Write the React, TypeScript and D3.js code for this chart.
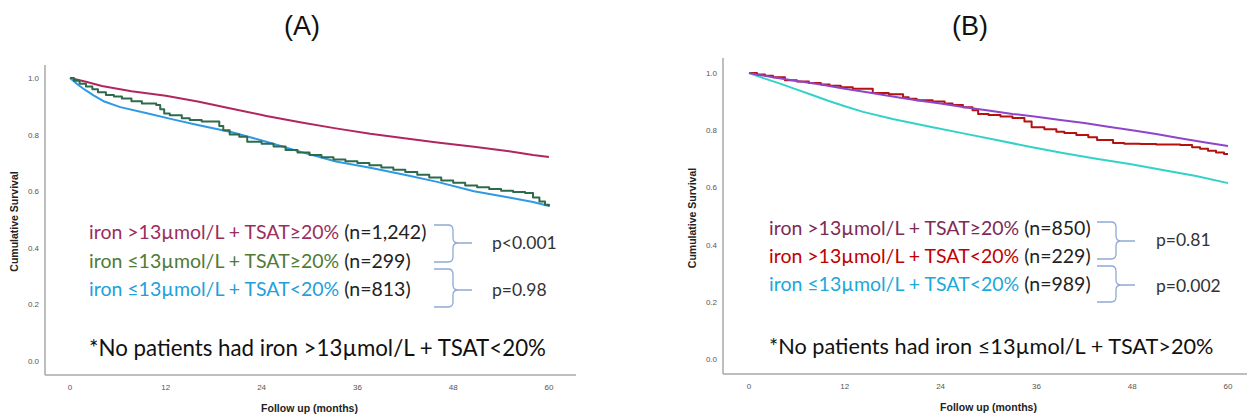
import React from "react";
import * as d3 from "d3";

// ---------- data ----------
const monthTicks = [0, 12, 24, 36, 48, 60];
const survivalTicks = [0, 0.2, 0.4, 0.6, 0.8, 1.0];

// Panel A
const aHighIronHighTsat: [number, number][] = [
  [0, 1.0], [2, 0.987], [4, 0.972], [7.7, 0.953], [12, 0.937], [16, 0.917], [20, 0.893],
  [24.6, 0.866], [29, 0.843], [33.3, 0.822], [37.6, 0.803], [41.9, 0.787], [46, 0.772],
  [50.6, 0.757], [55, 0.741], [58, 0.728], [60, 0.721],
];
const aLowIronHighTsat: [number, number][] = [
  [0, 1.0], [0.5, 0.99], [1.2, 0.98], [2, 0.97], [2.8, 0.96], [3.5, 0.95], [4.5, 0.94],
  [5.5, 0.935], [6.5, 0.928], [7.7, 0.918], [9, 0.91], [10.8, 0.905], [11.3, 0.89],
  [11.8, 0.875], [12.5, 0.868], [14, 0.858], [15, 0.852], [16.5, 0.846], [18.7, 0.83],
  [19.2, 0.815], [20, 0.8], [21.2, 0.792], [22.2, 0.775], [24, 0.768], [25.5, 0.758],
  [27, 0.746], [28.5, 0.737], [30, 0.728], [31.5, 0.72], [33, 0.712], [34.5, 0.706],
  [36, 0.7], [37.5, 0.692], [39, 0.684], [40.5, 0.676], [42, 0.668], [43.5, 0.658],
  [45, 0.648], [46.5, 0.638], [48, 0.63], [49.5, 0.62], [51, 0.614], [52.5, 0.608],
  [54, 0.602], [55.5, 0.597], [57, 0.594], [58, 0.578], [58.8, 0.564], [59.5, 0.552],
  [60, 0.546],
];
const aLowIronLowTsat: [number, number][] = [
  [0, 1.0], [1, 0.976], [2, 0.956], [3, 0.938], [4.2, 0.918], [6.3, 0.897], [9.5, 0.876],
  [13, 0.853], [16, 0.834], [20.3, 0.808], [24.6, 0.775], [29, 0.738], [33.3, 0.705],
  [37.6, 0.683], [41.9, 0.658], [46, 0.633], [50.6, 0.6], [55, 0.578], [58, 0.562],
  [60, 0.548],
];

// Panel B
const bHighIronHighTsat: [number, number][] = [
  [0, 1.0], [3, 0.985], [6, 0.972], [9, 0.96], [12, 0.945], [15, 0.932], [18, 0.918],
  [21, 0.905], [24, 0.893], [27, 0.88], [30, 0.869], [33, 0.857], [36, 0.847], [39, 0.836],
  [42, 0.825], [45, 0.812], [48, 0.8], [51, 0.787], [54, 0.772], [57, 0.758], [60, 0.745],
];
const bHighIronLowTsat: [number, number][] = [
  [0, 1.0], [1, 0.995], [2, 0.99], [3, 0.985], [4.5, 0.975], [6, 0.97], [7.5, 0.965],
  [9, 0.96], [10.1, 0.955], [11.5, 0.95], [13, 0.945], [15.5, 0.93], [17.5, 0.926],
  [19.3, 0.915], [20, 0.91], [21, 0.905], [23, 0.9], [24.5, 0.893], [25.5, 0.888],
  [26.8, 0.88], [28, 0.87], [28.7, 0.857], [30, 0.853], [31.5, 0.848], [33, 0.843],
  [34.5, 0.83], [35.4, 0.81], [37, 0.803], [38.5, 0.795], [39.5, 0.79], [41, 0.783],
  [42.5, 0.775], [43.6, 0.766], [45.6, 0.755], [47, 0.753], [49, 0.752], [51, 0.75],
  [54, 0.748], [55.5, 0.74], [56.5, 0.735], [57.5, 0.728], [58.5, 0.722], [59.5, 0.717],
  [60, 0.717],
];
const bLowIronLowTsat: [number, number][] = [
  [0, 1.0], [1.8, 0.982], [4, 0.962], [6, 0.942], [8, 0.922], [10, 0.902], [12, 0.884],
  [14.3, 0.864], [18, 0.839], [22.7, 0.812], [27, 0.788], [31, 0.766], [35, 0.743],
  [39.3, 0.72], [43.5, 0.7], [47.7, 0.682], [52, 0.66], [56, 0.64], [60, 0.615],
];

const aLegendLabels = [
  "iron >13µmol/L + TSAT≥20%",
  "iron ≤13µmol/L + TSAT≥20%",
  "iron ≤13µmol/L + TSAT<20%",
];
const aLegendCounts = ["(n=1,242)", "(n=299)", "(n=813)"];
const aPValues = ["p<0.001", "p=0.98"];
const aFootnote = "*No patients had iron >13µmol/L + TSAT<20%";

const bLegendLabels = [
  "iron >13µmol/L + TSAT≥20%",
  "iron >13µmol/L + TSAT<20%",
  "iron ≤13µmol/L + TSAT<20%",
];
const bLegendCounts = ["(n=850)", "(n=229)", "(n=989)"];
const bPValues = ["p=0.81", "p=0.002"];
const bFootnote = "*No patients had iron ≤13µmol/L + TSAT>20%";

// ---------- drawing ----------
type Series = { data: [number, number][]; color: string; step: boolean };

type PanelProps = {
  title: string;
  titleX: number;
  left: number;
  right: number;
  top: number;
  bottom: number;
  axisX: number;
  axisY: number;
  axisTop: number;
  axisEnd: number;
  series: Series[];
  labels: string[];
  counts: string[];
  labelColors: string[];
  legendX: number;
  legendY: number[];
  pValues: string[];
  pX: number;
  pY: number[];
  braces: { top: number; mid: number; bottom: number }[];
  braceX: number;
  footnote: string;
  footY: number;
  footSize: number;
};

const FONT_SANS = "'Liberation Sans', Arial, sans-serif";
const FONT_TEXT = "Lato, 'Open Sans', sans-serif";

function bracePath(x0: number, top: number, mid: number, bottom: number) {
  const xv = x0 + 19;
  const xt = x0 + 38;
  const r = 5;
  return [
    `M${x0},${top}`,
    `L${xv - r},${top}`,
    `Q${xv},${top} ${xv},${top + r}`,
    `L${xv},${mid - r}`,
    `Q${xv},${mid} ${xv + r},${mid}`,
    `L${xt},${mid}`,
    `M${xv + r},${mid}`,
    `Q${xv},${mid} ${xv},${mid + r}`,
    `L${xv},${bottom - r}`,
    `Q${xv},${bottom} ${xv - r},${bottom}`,
    `L${x0},${bottom}`,
  ].join(" ");
}

function Panel(p: PanelProps) {
  const x = d3.scaleLinear().domain([0, 60]).range([p.left, p.right]);
  const y = d3.scaleLinear().domain([0, 1]).range([p.bottom, p.top]);
  return (
    <g>
      <text x={p.titleX} y={35} textAnchor="middle" fontFamily={FONT_SANS} fontSize={27} fill="#111">
        {p.title}
      </text>
      <line x1={p.axisX} x2={p.axisX} y1={p.axisTop} y2={p.axisY} stroke="#a8a8a8" strokeWidth={1.5} />
      <line x1={p.axisX} x2={p.axisEnd} y1={p.axisY} y2={p.axisY} stroke="#a8a8a8" strokeWidth={1.5} />
      {survivalTicks.map((t) => (
        <text key={t} x={p.axisX - 6} y={y(t) + 3} textAnchor="end" fontFamily={FONT_SANS} fontSize={8} fill="#555">
          {t.toFixed(1)}
        </text>
      ))}
      {monthTicks.map((t) => (
        <text key={t} x={x(t)} y={p.axisY + 15} textAnchor="middle" fontFamily={FONT_SANS} fontSize={8} fill="#555">
          {t}
        </text>
      ))}
      <text
        x={(p.left + p.right) / 2}
        y={p.axisY + 37}
        textAnchor="middle"
        fontFamily={FONT_SANS}
        fontSize={10.5}
        fontWeight="bold"
        fill="#222"
      >
        Follow up (months)
      </text>
      <text
        transform={`translate(${p.axisX - 27},${(p.top + p.bottom) / 2 + 2}) rotate(-90)`}
        textAnchor="middle"
        fontFamily={FONT_SANS}
        fontSize={10.5}
        fontWeight="bold"
        fill="#222"
      >
        Cumulative Survival
      </text>
      {p.series.map((s, i) => {
        const gen = d3
          .line<[number, number]>()
          .x((d) => x(d[0]))
          .y((d) => y(d[1]))
          .curve(s.step ? d3.curveStepAfter : d3.curveLinear);
        return (
          <path key={i} d={gen(s.data) || ""} fill="none" stroke={s.color} strokeWidth={2} strokeLinejoin="round" />
        );
      })}
      {p.labels.map((l, i) => (
        <text key={l + i} x={p.legendX} y={p.legendY[i]} fontFamily={FONT_TEXT} fontSize={19.5}>
          <tspan fill={p.labelColors[i]}>{l}</tspan>
          <tspan fill="#222">{" " + p.counts[i]}</tspan>
        </text>
      ))}
      {p.braces.map((b, i) => (
        <path key={i} d={bracePath(p.braceX, b.top, b.mid, b.bottom)} fill="none" stroke="#8fa9d4" strokeWidth={1.3} />
      ))}
      {p.pValues.map((v, i) => (
        <text key={v} x={p.pX} y={p.pY[i]} fontFamily={FONT_TEXT} fontSize={17.5} fill="#333">
          {v}
        </text>
      ))}
      <text x={p.legendX} y={p.footY} fontFamily={FONT_TEXT} fontSize={p.footSize} fill="#111">
        {p.footnote}
      </text>
    </g>
  );
}

export default function App() {
  return (
    <svg width={1247} height={417} style={{ position: "absolute", left: 0, top: 0, background: "#fff" }}>
      <rect width={1247} height={417} fill="#fff" />
      <Panel
        title="(A)"
        titleX={302}
        left={70}
        right={549}
        top={78}
        bottom={361}
        axisX={45}
        axisY={375}
        axisTop={65}
        axisEnd={576}
        series={[
          { data: aHighIronHighTsat, color: "#b2265e", step: false },
          { data: aLowIronLowTsat, color: "#2e9ae6", step: false },
          { data: aLowIronHighTsat, color: "#2d6b4c", step: true },
        ]}
        labels={aLegendLabels}
        counts={aLegendCounts}
        labelColors={["#9b2d5d", "#4f7b34", "#21a0dc"]}
        legendX={89}
        legendY={[239, 268, 296]}
        pValues={aPValues}
        pX={492}
        pY={[249, 296]}
        braces={[
          { top: 225, mid: 243, bottom: 262 },
          { top: 269, mid: 290, bottom: 307 },
        ]}
        braceX={434}
        footnote={aFootnote}
        footY={356}
        footSize={22.3}
      />
      <Panel
        title="(B)"
        titleX={970}
        left={749}
        right={1228}
        top={73}
        bottom={359}
        axisX={723}
        axisY={374}
        axisTop={58}
        axisEnd={1247}
        series={[
          { data: bLowIronLowTsat, color: "#32d2c8", step: false },
          { data: bHighIronLowTsat, color: "#b3120f", step: true },
          { data: bHighIronHighTsat, color: "#8f45c9", step: false },
        ]}
        labels={bLegendLabels}
        counts={bLegendCounts}
        labelColors={["#7e2a56", "#c00000", "#1ca8d8"]}
        legendX={769}
        legendY={[235, 263, 291]}
        pValues={bPValues}
        pX={1156}
        pY={[246, 292]}
        braces={[
          { top: 222, mid: 241, bottom: 259 },
          { top: 266, mid: 285, bottom: 302 },
        ]}
        braceX={1097}
        footnote={bFootnote}
        footY={354}
        footSize={21.7}
      />
    </svg>
  );
}
